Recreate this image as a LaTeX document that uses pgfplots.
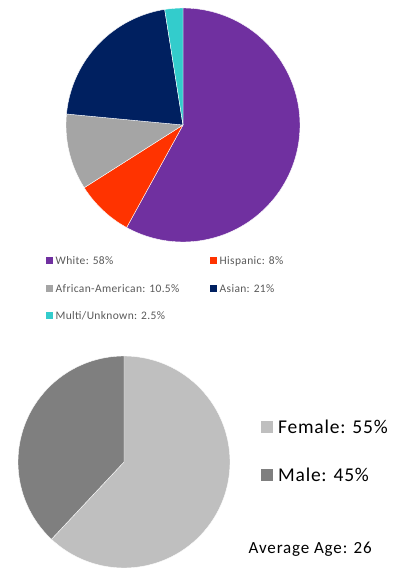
\documentclass[border=0pt]{standalone}
\usepackage{pgfplots}
\pgfplotsset{compat=1.18}
\usepackage{fontspec}
\setmainfont{Carlito}
\definecolor{cWhite}{HTML}{7030A0}
\definecolor{cHisp}{HTML}{FF3300}
\definecolor{cAfr}{HTML}{A5A5A5}
\definecolor{cAsian}{HTML}{002060}
\definecolor{cMulti}{HTML}{33CCCC}
\definecolor{cFem}{HTML}{BFBFBF}
\definecolor{cMale}{HTML}{7F7F7F}
\definecolor{legtext}{HTML}{595959}
% slice: color, cx, cy, r, start %, end % (clockwise from 12 o'clock)
\newcommand{\slice}[6]{%
  \addplot[fill=#1, draw=white, line width=0.4pt, domain={90-3.6*(#6)}:{90-3.6*(#5)}, samples=120, variable=\t]
    ({#2+#4*cos(\t)}, {#3+#4*sin(\t)}) -- (axis cs:#2,#3) -- cycle;
}
\begin{document}
\begin{tikzpicture}
\begin{axis}[
  scale only axis, width=399pt, height=579pt,
  xmin=0, xmax=399, ymin=0, ymax=579,
  hide axis, clip=false,
]
\path (axis cs:0,0) rectangle (axis cs:399,579);
% Top pie: ethnicity (percent)
\slice{cWhite}{183}{454}{117}{0}{58}
\slice{cHisp}{183}{454}{117}{58}{66}
\slice{cAfr}{183}{454}{117}{66}{76.5}
\slice{cAsian}{183}{454}{117}{76.5}{97.5}
\slice{cMulti}{183}{454}{117}{97.5}{100}
% Bottom pie: gender
\slice{cFem}{124}{117}{106}{0}{62}
\slice{cMale}{124}{117}{106}{62}{100}

% Top legend
\begin{scope}[every node/.style={inner sep=0pt, font=\fontsize{11.5}{13}\selectfont\addfontfeature{LetterSpace=3}, text=legtext}]
\node at (axis cs:49.5,318) {\textcolor{cWhite}{\rule{7pt}{7pt}}};
\node[anchor=west] at (axis cs:55.5,318) {White: 58\%};
\node at (axis cs:213.5,318) {\textcolor{cHisp}{\rule{7pt}{7pt}}};
\node[anchor=west] at (axis cs:219.5,318) {Hispanic: 8\%};
\node at (axis cs:49.5,290.7) {\textcolor{cAfr}{\rule{7pt}{7pt}}};
\node[anchor=west] at (axis cs:55.5,290.7) {African-American: 10.5\%};
\node at (axis cs:213.5,290.7) {\textcolor{cAsian}{\rule{7pt}{7pt}}};
\node[anchor=west] at (axis cs:219.5,290.7) {Asian: 21\%};
\node at (axis cs:49.5,263.3) {\textcolor{cMulti}{\rule{7pt}{7pt}}};
\node[anchor=west] at (axis cs:55.5,263.3) {Multi/Unknown: 2.5\%};
\end{scope}

% Bottom legend
\begin{scope}[every node/.style={inner sep=0pt, font=\fontsize{19.5}{22}\selectfont\addfontfeature{LetterSpace=4}, text=black}]
\node at (axis cs:267,152) {\textcolor{cFem}{\rule{12pt}{12pt}}};
\node[anchor=west] at (axis cs:278,152) {Female: 55\%};
\node at (axis cs:267,104) {\textcolor{cMale}{\rule{12pt}{12pt}}};
\node[anchor=west] at (axis cs:278,104) {Male: 45\%};
\end{scope}
\node[anchor=west, inner sep=0pt, font=\fontsize{17}{19}\selectfont\addfontfeature{LetterSpace=5}] at (axis cs:248.5,30) {Average Age: 26};
\end{axis}
\end{tikzpicture}
\end{document}
